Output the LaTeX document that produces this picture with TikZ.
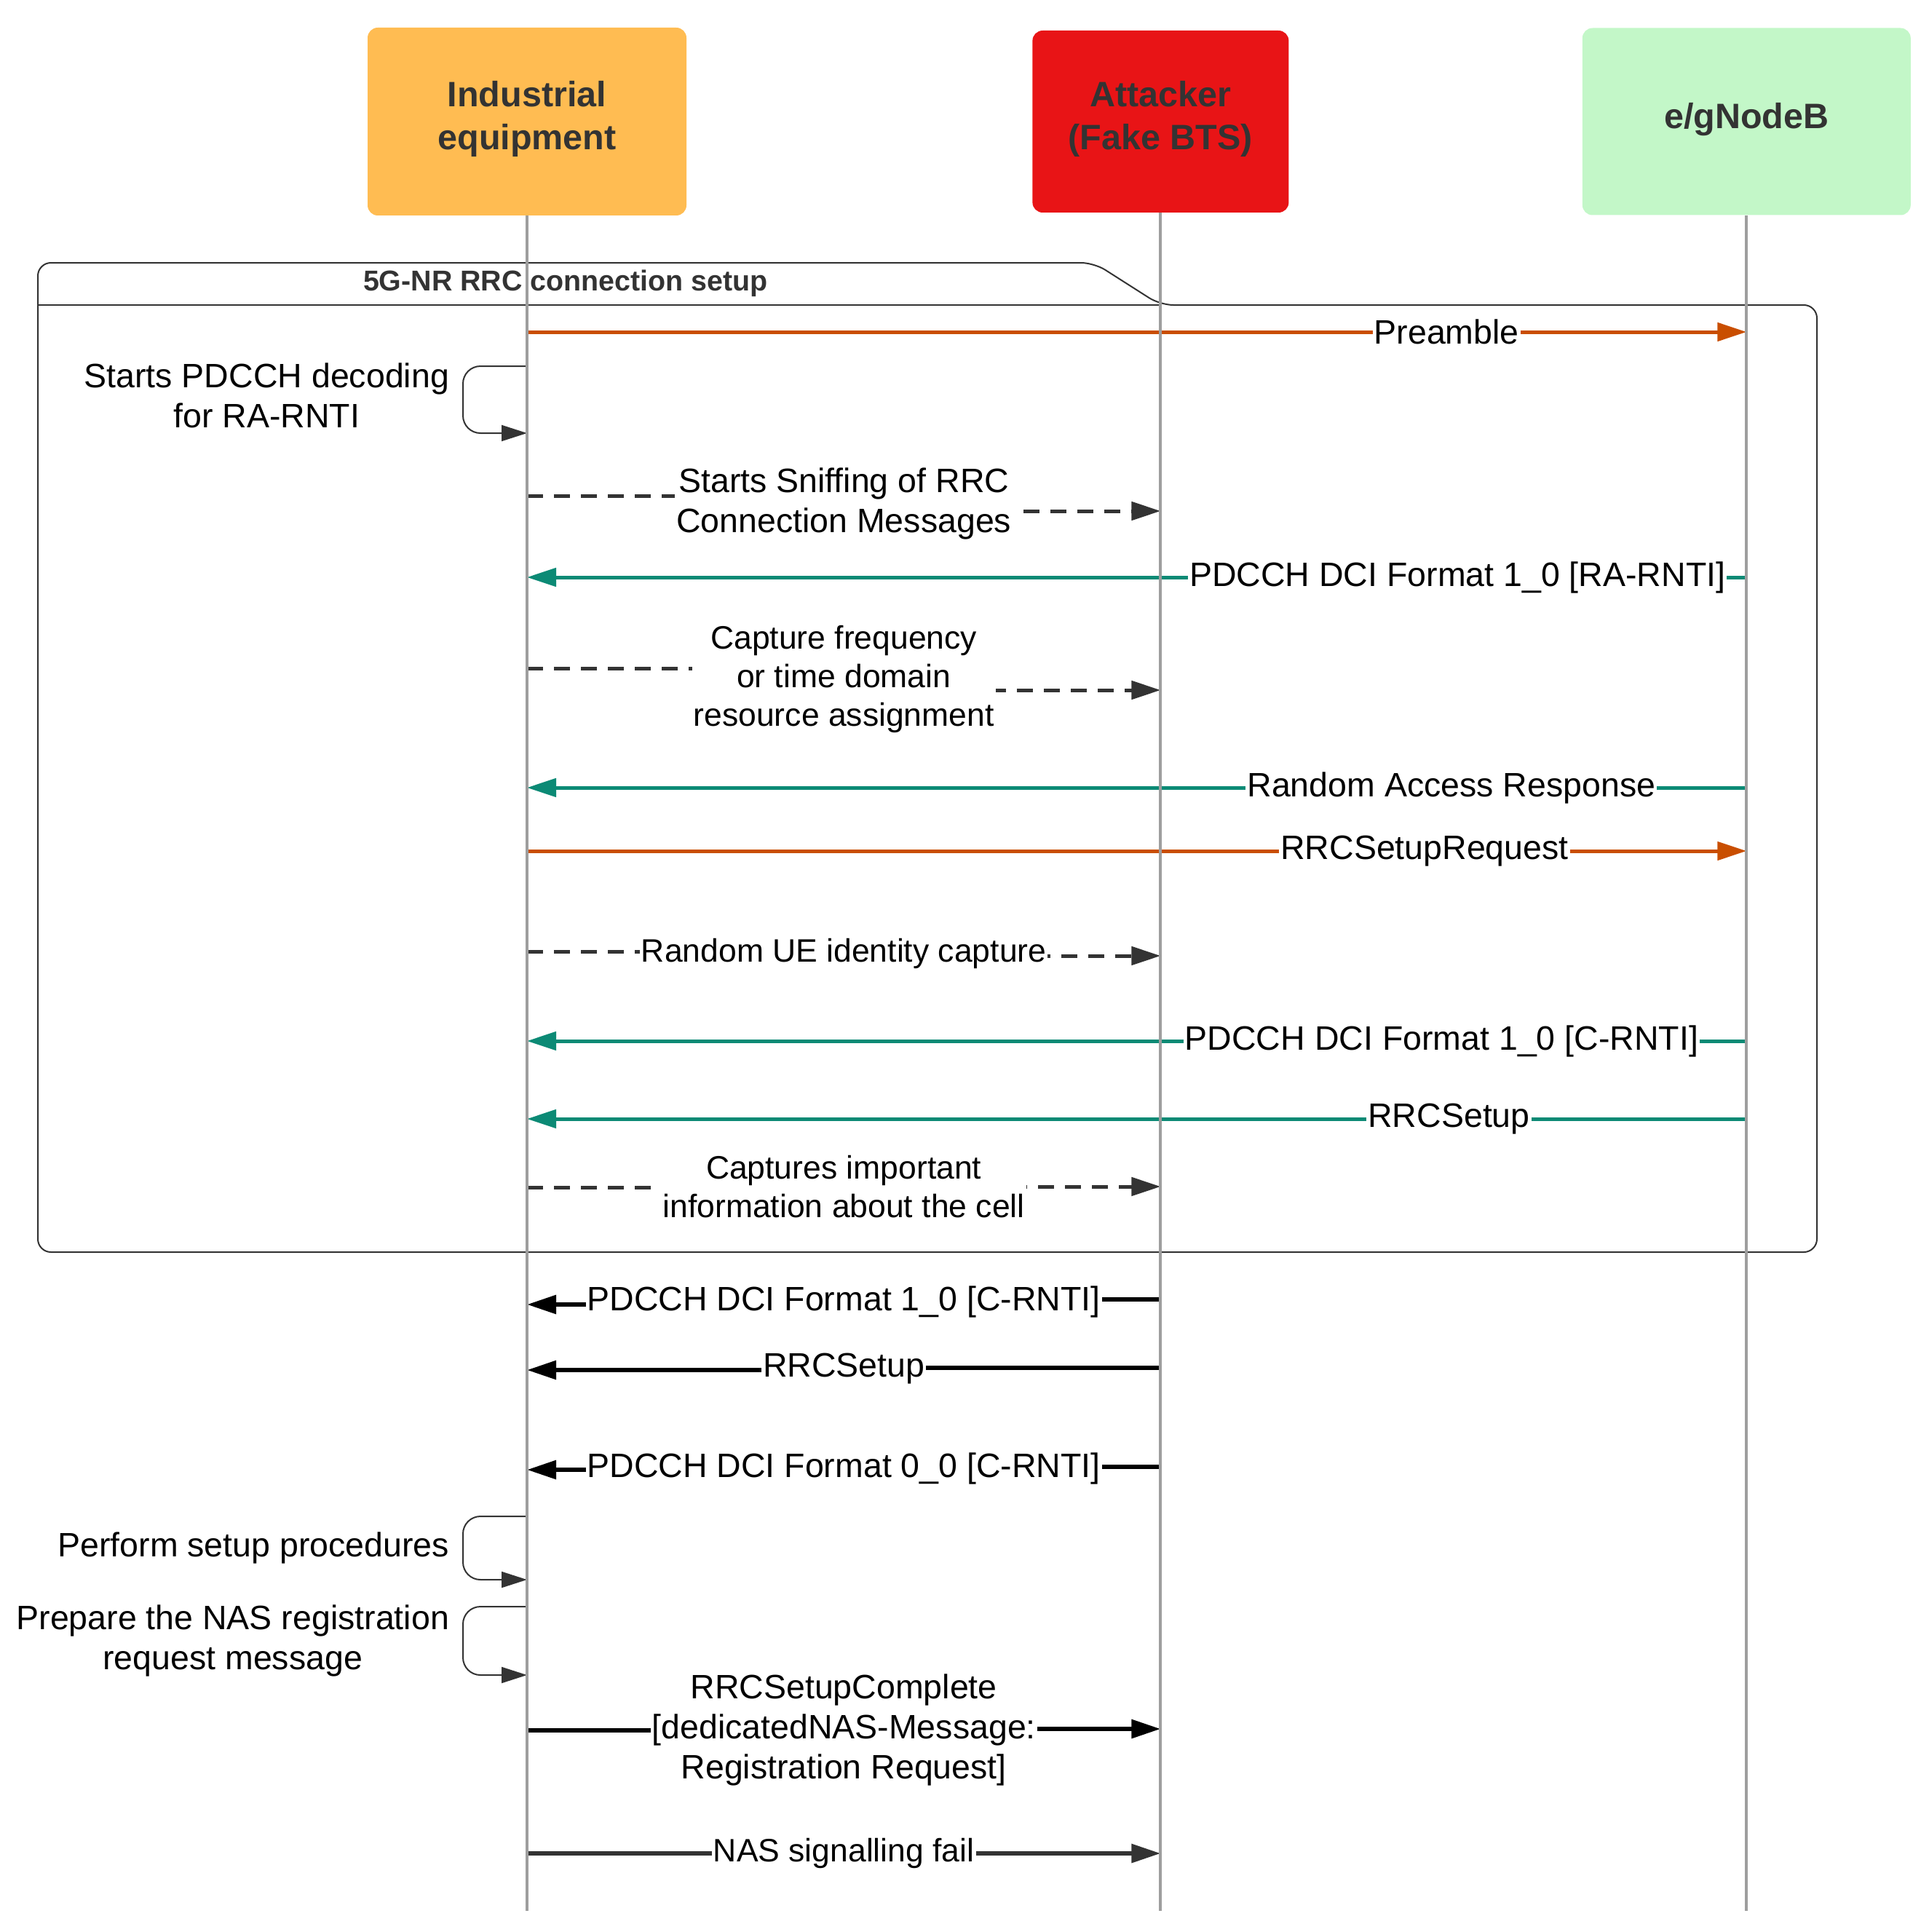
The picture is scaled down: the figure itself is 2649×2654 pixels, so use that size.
\documentclass[tikz,border=0pt]{standalone}
\usepackage{fontspec}
\setmainfont{Liberation Sans}
\usetikzlibrary{arrows.meta, positioning, calc}

\definecolor{ueorange}{HTML}{FFBC52}
\definecolor{btsred}{HTML}{E81416}
\definecolor{gnbgreen}{HTML}{C3F7C8}
\definecolor{ulorange}{HTML}{C94E00}
\definecolor{dlteal}{HTML}{0C8A75}
\definecolor{darkgrey}{HTML}{333333}
\definecolor{lifegrey}{HTML}{9E9E9E}

\begin{document}
\begin{tikzpicture}[x=1pt, y=-1pt,
        every node/.style={font=\fontsize{46.5}{55}\selectfont, inner sep=0pt},
        entity/.style={rounded corners=14pt, align=center, text=darkgrey, text depth=17pt, font=\bfseries\fontsize{48.5}{59}\selectfont},
        lifeline/.style={draw=lifegrey, line width=4pt},
        msg/.style={line width=5pt, -{Triangle[length=40pt, width=25pt]}},
        uplink/.style={msg, draw=ulorange},
        downlink/.style={msg, draw=dlteal},
        sniff/.style={msg, draw=darkgrey, dash pattern=on 22pt off 15pt},
        fakemsg/.style={msg, line width=6pt, draw=black},
        msgtext/.style={fill=white, inner xsep=2pt, align=center},
        msgsmall/.style={msgtext, font=\fontsize{44.5}{53}\selectfont},
        selfloop/.style={draw=darkgrey, line width=2pt, rounded corners=24pt, -{Triangle[length=35pt, width=22pt]}},
        looptext/.style={align=center, left=18pt}
    ]
        \useasboundingbox (0,0) rectangle (2649,2654);
        \newcommand{\lifept}[3]{\coordinate (#1) at (#2.south |- 0,#3);}
        % message between two lifelines, the small step hidden by its label
        \newcommand{\hopmsg}[6]{%
            \draw[#1] (#3) -| ($(#3)!0.5!(#4)$) |- (#4);
            \node[#2] (#5) at ($(#3)!0.5!(#4)$) {#6};}

        \node[entity, fill=ueorange, minimum width=438pt, minimum height=258pt] (ue) at (724,167) {Industrial\\equipment};
        \node[entity, fill=btsred, minimum width=352pt, minimum height=250pt, right=475pt of ue] (bts) {Attacker\\(Fake BTS)};
        \node[entity, fill=gnbgreen, minimum width=451pt, minimum height=257pt, right=403pt of bts] (gnb) {e/gNodeB};

        % frame of the RRC setup
        \draw[draw=darkgrey, line width=2pt, rounded corners=18pt]
            (52,1720) -- (52,361) -- (1503,361) -- (1594,419) -- (2496,419) -- (2496,1720) -- cycle;
        \draw[draw=darkgrey, line width=2pt] (52,419) -- (1594,419);
        \node[text=darkgrey, font=\bfseries\fontsize{39.4}{47}\selectfont] (frameTitle) at (777,389) {5G-NR RRC connection setup};

        % 5G-NR RRC connection setup
        \lifept{preUE}{ue}{456} \lifept{preGNB}{gnb}{456}
        \draw[uplink] (preUE) -- node[msgtext, pos=0.754] (preLbl) {Preamble} (preGNB);

        \lifept{decA}{ue}{503} \lifept{decB}{ue}{595}
        \draw[selfloop] (decA) -- ++(-88,0) |- node[looptext, pos=0.25, yshift=6pt] (decLbl) {Starts PDCCH decoding\\for RA-RNTI} (decB);

        \lifept{sniffUE}{ue}{681} \lifept{sniffBTS}{bts}{702}
        \hopmsg{sniff}{msgtext}{sniffUE}{sniffBTS}{sniffLbl}{Starts Sniffing of RRC\\Connection Messages}

        \lifept{raUE}{ue}{793} \lifept{raGNB}{gnb}{793}
        \draw[downlink] (raGNB) -- node[msgtext, pos=0.237] (raLbl) {PDCCH DCI Format 1\_0 [RA-RNTI]} (raUE);

        \lifept{freqUE}{ue}{918} \lifept{freqBTS}{bts}{948}
        \hopmsg{sniff}{msgsmall}{freqUE}{freqBTS}{freqLbl}{Capture frequency\\or time domain\\resource assignment}

        \lifept{rarUE}{ue}{1082} \lifept{rarGNB}{gnb}{1082}
        \draw[downlink] (rarGNB) -- node[msgtext, pos=0.242] (rarLbl) {Random Access Response} (rarUE);

        \lifept{reqUE}{ue}{1169} \lifept{reqGNB}{gnb}{1169}
        \draw[uplink] (reqUE) -- node[msgtext, pos=0.736] (reqLbl) {RRCSetupRequest} (reqGNB);

        \lifept{idUE}{ue}{1307} \lifept{idBTS}{bts}{1313}
        \hopmsg{sniff}{msgsmall}{idUE}{idBTS}{idLbl}{Random UE identity capture}

        \lifept{crntiUE}{ue}{1430} \lifept{crntiGNB}{gnb}{1430}
        \draw[downlink] (crntiGNB) -- node[msgtext, pos=0.25] (crntiLbl) {PDCCH DCI Format 1\_0 [C-RNTI]} (crntiUE);

        \lifept{setupUE}{ue}{1537} \lifept{setupGNB}{gnb}{1537}
        \draw[downlink] (setupGNB) -- node[msgtext, pos=0.244] (setupLbl) {RRCSetup} (setupUE);

        \lifept{cellUE}{ue}{1631} \lifept{cellBTS}{bts}{1630}
        \hopmsg{sniff}{msgsmall}{cellUE}{cellBTS}{cellLbl}{Captures important\\information about the cell}

        % fake BTS towards the equipment
        \lifept{fcrntiBTS}{bts}{1785} \lifept{fcrntiUE}{ue}{1792}
        \hopmsg{fakemsg}{msgtext}{fcrntiBTS}{fcrntiUE}{fcrntiLbl}{PDCCH DCI Format 1\_0 [C-RNTI]}

        \lifept{fsetupBTS}{bts}{1879} \lifept{fsetupUE}{ue}{1882}
        \hopmsg{fakemsg}{msgtext}{fsetupBTS}{fsetupUE}{fsetupLbl}{RRCSetup}

        \lifept{fulBTS}{bts}{2015} \lifept{fulUE}{ue}{2019}
        \hopmsg{fakemsg}{msgtext}{fulBTS}{fulUE}{fulLbl}{PDCCH DCI Format 0\_0 [C-RNTI]}

        \lifept{perfA}{ue}{2083} \lifept{perfB}{ue}{2170}
        \draw[selfloop] (perfA) -- ++(-88,0) |- node[looptext, pos=0.25] (perfLbl) {Perform setup procedures} (perfB);

        \lifept{nasA}{ue}{2207} \lifept{nasB}{ue}{2301}
        \draw[selfloop] (nasA) -- ++(-88,0) |- node[looptext, pos=0.25] (nasLbl) {Prepare the NAS registration\\request message} (nasB);

        \lifept{complUE}{ue}{2377} \lifept{complBTS}{bts}{2375}
        \hopmsg{fakemsg}{msgtext}{complUE}{complBTS}{complLbl}{RRCSetupComplete\\{[}dedicatedNAS-Message:\\Registration Request{]}}

        \lifept{failUE}{ue}{2546} \lifept{failBTS}{bts}{2546}
        \hopmsg{fakemsg, draw=darkgrey}{msgsmall}{failUE}{failBTS}{failLbl}{NAS signalling fail}

        % lifelines
        \coordinate (ueEnd) at (ue.south |- 0,2625);
        \coordinate (btsEnd) at (bts.south |- 0,2625);
        \coordinate (gnbEnd) at (gnb.south |- 0,2625);
        \draw[lifeline] (ue.south) -- (ueEnd);
        \draw[lifeline] (bts.south) -- (btsEnd);
        \draw[lifeline] (gnb.south) -- (gnbEnd);
    \end{tikzpicture}
\end{document}
